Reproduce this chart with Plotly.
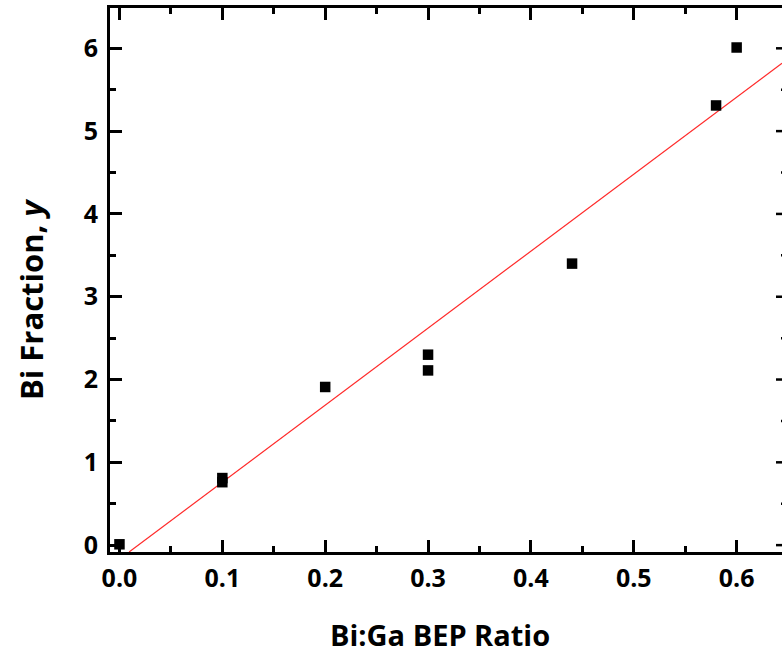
import plotly.graph_objects as go

# Bi:Ga beam-equivalent-pressure ratio vs measured Bi fraction
bep_ratio = [0.0, 0.1, 0.1, 0.2, 0.3, 0.3, 0.44, 0.58, 0.6]
bi_fraction = [0.01, 0.81, 0.76, 1.91, 2.30, 2.11, 3.40, 5.31, 6.01]

# Linear fit drawn across the plotted range
fit_slope = 9.30
fit_intercept = -0.17

x_range = [-0.0092, 0.6441]
y_range = [-0.083, 6.487]

x_ticks = [0.0, 0.1, 0.2, 0.3, 0.4, 0.5, 0.6]
x_tick_labels = ["0.0", "0.1", "0.2", "0.3", "0.4", "0.5", "0.6"]
y_ticks = [0, 1, 2, 3, 4, 5, 6]
y_tick_labels = ["0", "1", "2", "3", "4", "5", "6"]
y_minor_ticks = [0.5, 1.5, 2.5, 3.5, 4.5, 5.5]

FONT = "Open Sans"

fig = go.Figure()

fit_x = [(y_range[0] - fit_intercept) / fit_slope, x_range[1]]
fig.add_trace(go.Scatter(
    x=fit_x,
    y=[fit_slope * v + fit_intercept for v in fit_x],
    mode="lines",
    line=dict(color="#ff2a2a", width=1.2),
    hoverinfo="skip",
    showlegend=False,
))

fig.add_trace(go.Scatter(
    x=bep_ratio,
    y=bi_fraction,
    mode="markers",
    marker=dict(symbol="square", size=10.5, color="black", line=dict(width=0)),
    showlegend=False,
    cliponaxis=False,
))

axis_common = dict(
    showline=True,
    linecolor="black",
    linewidth=3,
    ticks="inside",
    ticklen=12,
    tickwidth=2.5,
    tickcolor="black",
    showgrid=False,
    zeroline=False,
    tickfont=dict(family=FONT, size=25, color="black", weight="bold"),
)

fig.update_xaxes(
    range=x_range,
    tickvals=x_ticks,
    ticktext=x_tick_labels,
    mirror="ticks",
    minor=dict(dtick=0.05, tick0=0, ticks="inside", ticklen=6, tickwidth=2.5,
               tickcolor="black", showgrid=False),
    ticklabelstandoff=2,
    **axis_common,
)
fig.update_yaxes(
    range=y_range,
    tickvals=y_ticks,
    ticktext=y_tick_labels,
    mirror=False,
    minor=dict(dtick=0.5, tick0=0, ticks="inside", ticklen=6, tickwidth=2.5,
               tickcolor="black", showgrid=False),
    ticklabelstandoff=4,
    **axis_common,
)

# Right-hand frame ticks, placed just past the visible edge
shapes = []
for v in y_ticks:
    shapes.append(dict(type="line", xref="paper", yref="y",
                       x0=(776 - 110) / 672, x1=(790 - 110) / 672, y0=v, y1=v,
                       line=dict(color="black", width=2.5)))
for v in y_minor_ticks:
    shapes.append(dict(type="line", xref="paper", yref="y",
                       x0=(781 - 110) / 672, x1=(790 - 110) / 672, y0=v, y1=v,
                       line=dict(color="black", width=2.5)))

fig.update_layout(
    width=782,
    height=656,
    margin=dict(l=110, r=0, t=8, b=104),
    paper_bgcolor="white",
    plot_bgcolor="white",
    shapes=shapes,
    annotations=[
        dict(text="Bi:Ga BEP Ratio", xref="paper", yref="paper",
             x=(439.5 - 110) / 672, y=(552 - 634) / 544, xanchor="center", yanchor="middle",
             showarrow=False, font=dict(family=FONT, size=29, color="black", weight="bold")),
        dict(text="Bi Fraction, <i>y</i>", xref="paper", yref="paper",
             x=(31 - 110) / 672, y=(552 - 300) / 544, xanchor="center", yanchor="middle",
             textangle=-90, showarrow=False,
             font=dict(family=FONT, size=31, color="black", weight="bold")),
    ],
)

fig.write_html("out.html")
